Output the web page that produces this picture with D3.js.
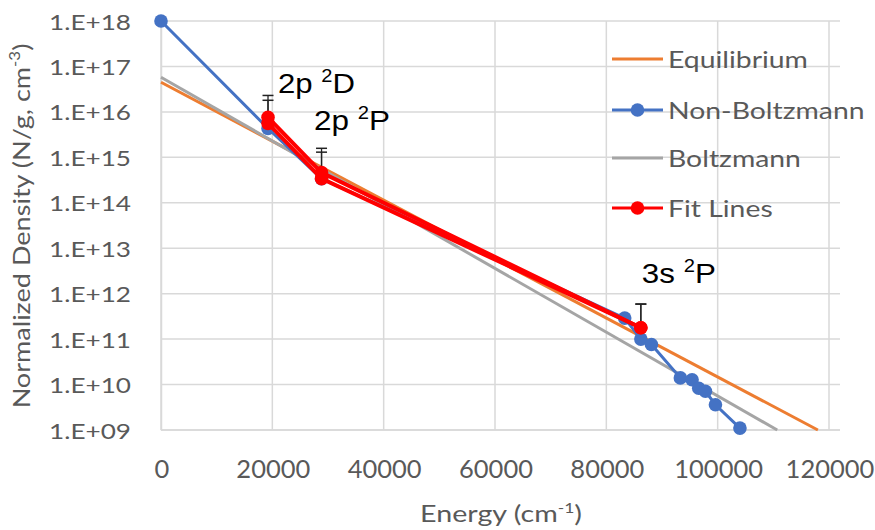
<!DOCTYPE html>
<html><head><meta charset="utf-8">
<script src="https://cdn.jsdelivr.net/npm/d3@7"></script>
<style>
html,body{margin:0;padding:0;background:#fff;}
svg{display:block;}
</style></head>
<body>
<svg id="chart" width="875" height="530"></svg>
<script>
// ---- data ----
const xTickValues = [0, 20000, 40000, 60000, 80000, 100000, 120000];
const yTickValues = [1e9, 1e10, 1e11, 1e12, 1e13, 1e14, 1e15, 1e16, 1e17, 1e18];
const yTickLabels = ["1.E+09","1.E+10","1.E+11","1.E+12","1.E+13","1.E+14","1.E+15","1.E+16","1.E+17","1.E+18"];

const eqEnergy = [0, 118000];
const eqDensity = [4.5e16, 1e9];

const bzEnergy = [0, 110700];
const bzDensity = [5.8e16, 1e9];

const nbEnergy  = [0, 19224, 28839, 83300, 86200, 88100, 93300, 95400, 96600, 97800, 99600, 104000];
const nbDensity = [1e18, 4.3e15, 3.4e14, 2.9e11, 1.0e11, 7.6e10, 1.4e10, 1.28e10, 8.3e9, 7.1e9, 3.6e9, 1.1e9];

const fitEnergy = [19224, 28839, 86200];
const fitHigh = [7.6e15, 4.6e14, 1.78e11];
const fitLow  = [5.6e15, 3.4e14, 1.78e11];
const fitHighErr = [2.3e16, 1.58e15, 5.9e11];
const fitLowErr  = [1.8e16, 1.3e15, 5.9e11];

const labelNames = ["2p ", "2p ", "3s "];
const labelSup = ["2", "2", "2"];
const labelTerm = ["D", "P", "P"];
const labelEnergy = [19224, 28839, 86200];
const labelDensity = [2.6e16, 4.0e15, 1.7e12];

const legendNames = ["Equilibrium", "Non-Boltzmann", "Boltzmann", "Fit Lines"];
const legendColors = ["#ED7D31", "#4472C4", "#A5A5A5", "#FF0000"];
const legendMarkers = [false, true, false, true];

// ---- layout ----
const svg = d3.select("#chart");
const x = d3.scaleLinear().domain([0, 120000]).range([161, 829]);
const y = d3.scaleLog().domain([1e9, 1e18]).range([430, 21]);
const gridRight = 840;
const tickColor = "#595959";
const gridColor = "#d9d9d9";
const FONT = "Lato, sans-serif";

// horizontal factor so that a text spans targetW pixels
function stretch(textNode, targetW) {
  const w = textNode.getBBox().width;
  return w > 0 ? targetW / w : 1;
}

// gridlines
svg.append("g").selectAll("line").data(yTickValues).join("line")
  .attr("x1", x(0)).attr("x2", gridRight)
  .attr("y1", d => y(d)).attr("y2", d => y(d))
  .attr("stroke", gridColor).attr("stroke-width", 1.5);
svg.append("g").selectAll("line").data(xTickValues).join("line")
  .attr("x1", d => x(d)).attr("x2", d => x(d))
  .attr("y1", y(1e18)).attr("y2", y(1e9))
  .attr("stroke", gridColor).attr("stroke-width", 1.5);

// y axis
const yAxis = d3.axisLeft(y).tickValues(yTickValues).tickSize(0).tickFormat((d,i) => yTickLabels[i]);
const gy = svg.append("g").attr("transform", `translate(${x(0)},0)`).call(yAxis);
gy.select(".domain").attr("stroke", gridColor).attr("stroke-width", 1.5);
gy.selectAll(".tick text").remove();
const yLabG = gy.selectAll(".tick").append("g");
const yLabT = yLabG.append("text")
  .attr("text-anchor", "end")
  .attr("font-family", FONT).attr("font-size", 22)
  .attr("fill", tickColor)
  .text((d,i) => yTickLabels[i]);
const sy1 = stretch(yLabT.nodes()[yLabT.nodes().length - 1], 82);
yLabG.attr("transform", `translate(-30,8) scale(${sy1},1)`);

// x axis
const xAxis = d3.axisBottom(x).tickValues(xTickValues).tickSize(0).tickFormat(d3.format("d"));
const gx = svg.append("g").attr("transform", `translate(0,${y(1e9)})`).call(xAxis);
gx.select(".domain").remove();
gx.append("line").attr("x1", x(0)).attr("x2", gridRight).attr("y1", 0).attr("y2", 0)
  .attr("stroke", gridColor).attr("stroke-width", 1.5);
gx.selectAll(".tick text").remove();
const xLabG = gx.selectAll(".tick").append("g");
const xLabT = xLabG.append("text")
  .attr("text-anchor", "middle")
  .attr("font-family", FONT).attr("font-size", 25)
  .attr("fill", tickColor)
  .text(d => d3.format("d")(d));
const sx1 = stretch(xLabT.nodes()[1], 74);
xLabG.attr("transform", `translate(0.5,48) scale(${sx1},1)`);

// axis titles
const ytG = svg.append("g");
const yt = ytG.append("text").attr("text-anchor", "middle")
  .attr("font-family", FONT).attr("font-size", 24).attr("fill", tickColor);
yt.append("tspan").text("Normalized Density (N/g, cm");
yt.append("tspan").attr("font-size", 15).attr("dy", -10).text("-3");
yt.append("tspan").attr("dy", 10).text(")");
const syt = stretch(yt.node(), 365);
ytG.attr("transform", `translate(30,226) rotate(-90) scale(${syt},1)`);

const xtG = svg.append("g");
const xt = xtG.append("text").attr("text-anchor", "middle")
  .attr("font-family", FONT).attr("font-size", 23).attr("fill", tickColor);
xt.append("tspan").text("Energy (cm");
xt.append("tspan").attr("font-size", 14).attr("dy", -9).text("-1");
xt.append("tspan").attr("dy", 9).text(")");
const sxt = stretch(xt.node(), 162);
xtG.attr("transform", `translate(501,522) scale(${sxt},1)`);

// lines
const line = d3.line().x(d => x(d[0])).y(d => y(d[1]));
svg.append("clipPath").attr("id", "plotclip").append("rect")
  .attr("x", x(0) - 10).attr("y", 0).attr("width", 720).attr("height", y(1e9) + 2);
const plot = svg.append("g").attr("clip-path", "url(#plotclip)");

plot.append("path").datum(d3.zip(eqEnergy, eqDensity))
  .attr("d", line).attr("fill", "none").attr("stroke", "#ED7D31").attr("stroke-width", 3);
plot.append("path").datum(d3.zip(bzEnergy, bzDensity))
  .attr("d", line).attr("fill", "none").attr("stroke", "#A5A5A5").attr("stroke-width", 3);

const nb = d3.zip(nbEnergy, nbDensity);
svg.append("path").datum(nb)
  .attr("d", line).attr("fill", "none").attr("stroke", "#4472C4").attr("stroke-width", 3);
svg.append("g").selectAll("circle").data(nb).join("circle")
  .attr("cx", d => x(d[0])).attr("cy", d => y(d[1])).attr("r", 6.8)
  .attr("fill", "#4472C4");

// fit lines with error bars
[[fitHigh, fitHighErr], [fitLow, fitLowErr]].forEach(([vals, errs]) => {
  const pts = d3.zip(fitEnergy, vals);
  svg.append("path").datum(pts)
    .attr("d", line).attr("fill", "none").attr("stroke", "#FF0000").attr("stroke-width", 4);
  const eb = svg.append("g");
  fitEnergy.forEach((e, i) => {
    eb.append("line").attr("x1", x(e)).attr("x2", x(e))
      .attr("y1", y(vals[i])).attr("y2", y(errs[i]))
      .attr("stroke", "#222").attr("stroke-width", 1.3);
    eb.append("line").attr("x1", x(e) - 5.5).attr("x2", x(e) + 5.5)
      .attr("y1", y(errs[i])).attr("y2", y(errs[i]))
      .attr("stroke", "#222").attr("stroke-width", 1.5);
  });
});
[fitHigh, fitLow].forEach(vals => {
  svg.append("g").selectAll("circle").data(d3.zip(fitEnergy, vals)).join("circle")
    .attr("cx", d => x(d[0])).attr("cy", d => y(d[1])).attr("r", 6.8)
    .attr("fill", "#FF0000");
});

// annotations
const labelOffsets = [10, -7.5, 1];
const labelWidths = [77, 76, 74];
labelEnergy.forEach((e, i) => {
  const g = svg.append("g");
  const t = g.append("text").attr("font-family", "Liberation Sans, Arial, sans-serif")
    .attr("font-size", 28).attr("fill", "#000");
  t.append("tspan").text(labelNames[i]);
  t.append("tspan").attr("font-size", 18).attr("dy", -11).text(labelSup[i]);
  t.append("tspan").attr("dy", 11).text(labelTerm[i]);
  const s = stretch(t.node(), labelWidths[i]);
  g.attr("transform", `translate(${x(e) + labelOffsets[i]},${y(labelDensity[i])}) scale(${s},1)`);
});

// legend
const legRows = [59, 110, 158, 208];
const leg = svg.append("g");
let legScale = 1;
const legTexts = [];
legendNames.forEach((n, i) => {
  const r = leg.append("g").attr("transform", `translate(612,${legRows[i]})`);
  r.append("line").attr("x1", 0).attr("x2", 51).attr("y1", 0).attr("y2", 0)
    .attr("stroke", legendColors[i]).attr("stroke-width", 3);
  if (legendMarkers[i]) r.append("circle").attr("cx", 25.5).attr("cy", 0).attr("r", 6.8).attr("fill", legendColors[i]);
  const tg = r.append("g");
  const t = tg.append("text").attr("font-family", FONT).attr("font-size", 23)
    .attr("fill", tickColor).text(n);
  legTexts.push(tg);
  if (i === 0) legScale = stretch(t.node(), 140);
});
legTexts.forEach(tg => tg.attr("transform", `translate(56,8.5) scale(${legScale},1)`));
</script>
</body></html>
